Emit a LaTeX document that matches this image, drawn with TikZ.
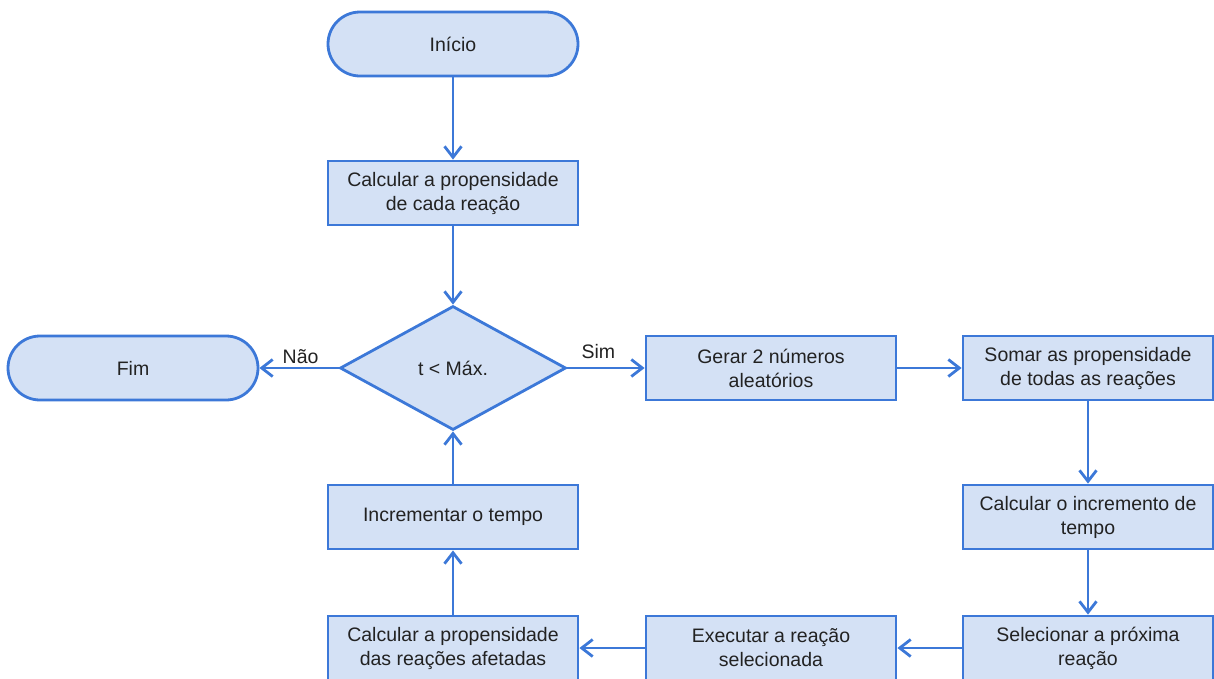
\documentclass[tikz,border=0pt]{standalone}
\usepackage{fontspec}
\setmainfont{Liberation Sans}
\usetikzlibrary{shapes.geometric, arrows.meta}
\definecolor{flowline}{HTML}{3C78D8}
\definecolor{flowfill}{HTML}{D4E1F5}
\definecolor{flowtext}{HTML}{222222}
\tikzset{
	box/.style={draw=flowline, fill=flowfill, line width=2.8pt, minimum width=250pt, minimum height=64pt, align=center, text=flowtext, font=\fontsize{19.5}{24}\selectfont},
	terminal/.style={box, rounded corners=32pt},
	decision/.style={draw=flowline, fill=flowfill, line width=2.8pt, diamond, aspect=1.82, minimum width=226pt, minimum height=124pt, inner sep=0pt, text=flowtext, font=\fontsize{19.5}{24}\selectfont},
	flow/.style={draw=flowline, line width=2.8pt, -{Straight Barb[length=11pt, width=17pt, line width=2.8pt]}},
	answer/.style={text=flowtext, font=\fontsize{19.5}{24}\selectfont}
}

\begin{document}
\begin{tikzpicture}[x=1pt, y=-1pt]
		\useasboundingbox (0,0) rectangle (1214,678);
		\clip (0,0) rectangle (1214,678);
		\node[terminal] (inicio) at (453,44) {Início};
		\node[box] (propcada) at (453,193) {Calcular a propensidade\\de cada reação};
		\node[decision] (teste) at (453,368) {t < Máx.};
		\node[terminal] (fim) at (133,368) {Fim};
		\node[box] (gerar) at (771,368) {Gerar 2 números\\aleatórios};
		\node[box] (somar) at (1088,368) {Somar as propensidade\\de todas as reações};
		\node[box] (incremento) at (1088,517) {Calcular o incremento de\\tempo};
		\node[box] (selecionar) at (1088,648) {Selecionar a próxima\\reação};
		\node[box] (executar) at (771,648) {Executar a reação\\selecionada};
		\node[box] (propafet) at (453,648) {Calcular a propensidade\\das reações afetadas};
		\node[box] (tempo) at (453,517) {Incrementar o tempo};
		\draw[flow] (inicio) -- (propcada);
		\draw[flow] (propcada) -- (teste);
		\draw[flow] (teste) -- node[answer, above, pos=0.48] {Não} (fim);
		\draw[flow] (teste) -- node[answer, above=5pt, pos=0.4] {Sim} (gerar);
		\draw[flow] (gerar) -- (somar);
		\draw[flow] (somar) -- (incremento);
		\draw[flow] (incremento) -- (selecionar);
		\draw[flow] (selecionar) -- (executar);
		\draw[flow] (executar) -- (propafet);
		\draw[flow] (propafet) -- (tempo);
		\draw[flow] (tempo) -- (teste);
\end{tikzpicture}
\end{document}
